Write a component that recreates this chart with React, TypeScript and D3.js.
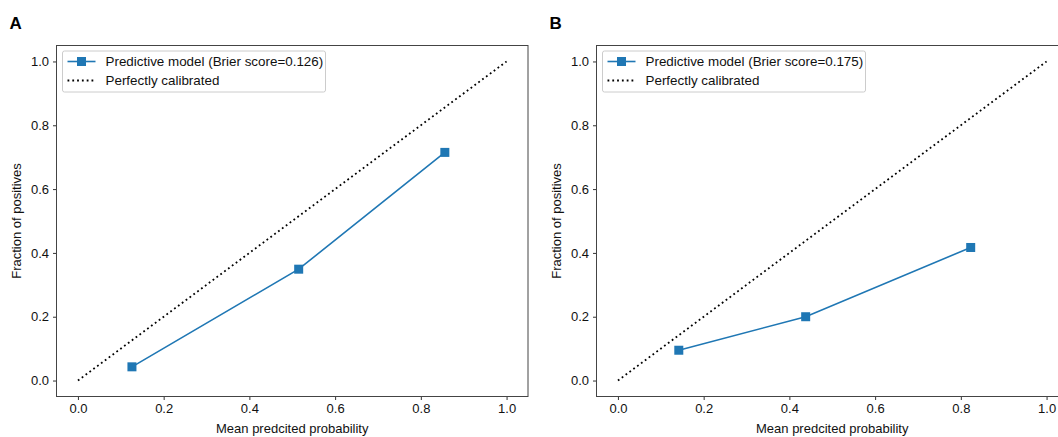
import React, { useEffect, useRef } from 'react';
import * as d3 from 'd3';

// calibration curves
const meanPredA = [0.126, 0.515, 0.856];
const fracPosA = [0.043, 0.349, 0.715];
const meanPredB = [0.142, 0.438, 0.823];
const fracPosB = [0.095, 0.2, 0.417];
const brierScores = ['0.126', '0.175'];
const panelLabels = ['A', 'B'];
const ticks = [0, 0.2, 0.4, 0.6, 0.8, 1.0];

const W = 1058, H = 437;
const FONT = '"Liberation Sans", Arial, sans-serif';
const BLUE = '#1f77b4';

function drawPanel(g: any, left: number, xs: number[], ys: number[], score: string, label: string) {
    const x = d3.scaleLinear().domain([-0.05, 1.05]).range([left, left + 471.5]);
    const y = d3.scaleLinear().domain([-0.05, 1.05]).range([396.5, 45.5]);

    // panel letter
    g.append('text')
        .attr('x', left - 47)
        .attr('y', 29)
        .attr('font-family', FONT)
        .attr('font-weight', 'bold')
        .attr('font-size', 17)
        .text(label);

    // x axis
    const xAxis = g.append('g')
        .attr('transform', 'translate(0,' + 396.5 + ')')
        .call(d3.axisBottom(x).tickValues(ticks).tickSize(3.5).tickPadding(4).tickFormat(d3.format('.1f')));
    // y axis
    const yAxis = g.append('g')
        .attr('transform', 'translate(' + left + ',0)')
        .call(d3.axisLeft(y).tickValues(ticks).tickSize(3.5).tickPadding(4).tickFormat(d3.format('.1f')));
    [xAxis, yAxis].forEach((a) => {
        a.select('.domain').remove();
        a.selectAll('line').attr('stroke', '#333');
        a.selectAll('text').attr('font-family', FONT).attr('font-size', 13).attr('fill', '#111');
    });

    // spines
    g.append('rect')
        .attr('x', left)
        .attr('y', 45.5)
        .attr('width', 471.5)
        .attr('height', 351)
        .attr('fill', 'none')
        .attr('stroke', '#444')
        .attr('stroke-width', 1);

    // perfectly calibrated
    g.append('line')
        .attr('x1', x(0)).attr('y1', y(0))
        .attr('x2', x(1)).attr('y2', y(1))
        .attr('stroke', '#000')
        .attr('stroke-width', 1.8)
        .attr('stroke-dasharray', '1.8 3');

    const pts = xs.map((v, i) => [v, ys[i]] as [number, number]);
    const line = d3.line().x((d: any) => x(d[0])).y((d: any) => y(d[1]));
    g.append('path')
        .attr('d', line(pts))
        .attr('fill', 'none')
        .attr('stroke', BLUE)
        .attr('stroke-width', 1.6);
    g.selectAll('.sq' + label)
        .data(pts)
        .enter()
        .append('rect')
        .attr('x', (d: any) => x(d[0]) - 4.5)
        .attr('y', (d: any) => y(d[1]) - 4.5)
        .attr('width', 9)
        .attr('height', 9)
        .attr('fill', BLUE);

    // legend
    const lg = g.append('g').attr('transform', 'translate(' + (left + 6) + ',51)');
    lg.append('rect')
        .attr('width', 263).attr('height', 41)
        .attr('rx', 2)
        .attr('fill', '#fff')
        .attr('fill-opacity', 0.8)
        .attr('stroke', '#ccc');
    lg.append('line').attr('x1', 5).attr('x2', 33).attr('y1', 10.5).attr('y2', 10.5)
        .attr('stroke', BLUE).attr('stroke-width', 1.6);
    lg.append('rect').attr('x', 14.5).attr('y', 6).attr('width', 9).attr('height', 9).attr('fill', BLUE);
    lg.append('line').attr('x1', 5).attr('x2', 33).attr('y1', 29.5).attr('y2', 29.5)
        .attr('stroke', '#000').attr('stroke-width', 1.8).attr('stroke-dasharray', '1.8 3');
    lg.append('text').attr('x', 43).attr('y', 15)
        .attr('font-family', FONT).attr('font-size', 13.4).attr('fill', '#111')
        .text('Predictive model (Brier score=' + score + ')');
    lg.append('text').attr('x', 43).attr('y', 34)
        .attr('font-family', FONT).attr('font-size', 13.4).attr('fill', '#111')
        .text('Perfectly calibrated');

    // axis labels
    g.append('text')
        .attr('x', x(0.5))
        .attr('y', 433)
        .attr('text-anchor', 'middle')
        .attr('font-family', FONT).attr('font-size', 13).attr('fill', '#111')
        .text('Mean predcited probability');
    g.append('text')
        .attr('transform', 'translate(' + (left - 36) + ',' + y(0.5) + ') rotate(-90)')
        .attr('text-anchor', 'middle')
        .attr('font-family', FONT).attr('font-size', 13).attr('fill', '#111')
        .text('Fraction of positives');
}

export default function App() {
    const ref = useRef<SVGSVGElement>(null);

    useEffect(() => {
        const svg = d3.select(ref.current);
        svg.selectAll('*').remove();
        drawPanel(svg.append('g'), 56.5, meanPredA, fracPosA, brierScores[0], panelLabels[0]);
        drawPanel(svg.append('g'), 596.5, meanPredB, fracPosB, brierScores[1], panelLabels[1]);
    }, []);

    return (
        <div style={{ position: 'absolute', left: 0, top: 0, width: W, height: H, overflow: 'hidden', background: '#fff' }}>
            <svg ref={ref} width={W} height={H} style={{ display: 'block' }} />
        </div>
    );
}
